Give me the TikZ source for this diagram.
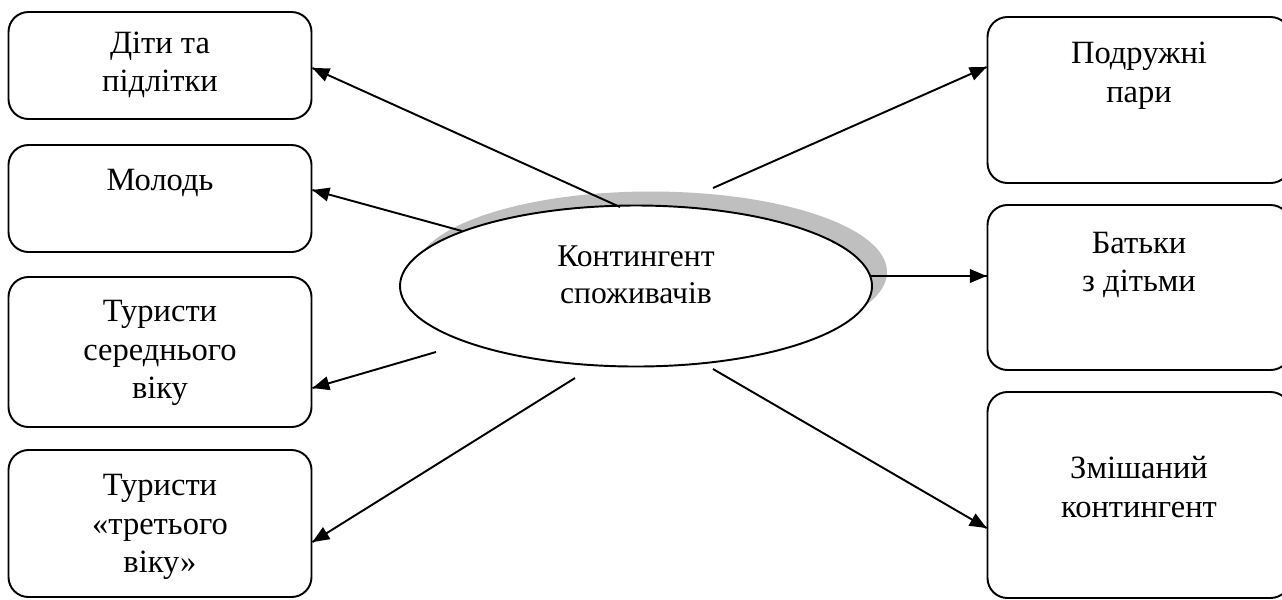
\documentclass[tikz,border=0pt]{standalone}
\usepackage{fontspec}
\setmainfont{Liberation Serif}
\usepackage{tikz}
\usetikzlibrary{arrows}
\usetikzlibrary{calc}
\usetikzlibrary{decorations.markings}
\usetikzlibrary{shapes.geometric}
\tikzset{->/.style = {decoration={markings,
                                  mark=at position 1 with {\arrow[scale=1.05]{triangle 45}}},
                      postaction={decorate}}}
\tikzset{box/.style = {draw, line width=1.1pt, rounded corners=4mm,
                       minimum width=60.6mm, inner sep=0pt}}
\tikzset{kont/.style = {ellipse, draw, line width=1.1pt, fill=white,
                        minimum width=94.4mm, minimum height=32.2mm, inner sep=0pt}}
\tikzset{kontshadow/.style = {kont, draw=none, fill=black!25}}
\tikzset{txt/.style = {align=center, font=\fontsize{18.5}{22}\selectfont}}

\begin{document}
\begin{tikzpicture}[x=0.2mm, y=-0.2mm]
    \useasboundingbox (0,0) rectangle (1282,599);

    % left column
    \node [box, minimum height=21.4mm] (dity)     at (160,65.5)  {};
    \node [box, minimum height=21.4mm] (molod)    at (160,198.5) {};
    \node [box, minimum height=30mm]   (tur-ser)  at (160,352)   {};
    \node [box, minimum height=29.4mm] (tur-tret) at (160,523.5) {};
    \node [txt] (dity-t)     at (160,65)  {Діти та\\підлітки};
    \node [txt] (molod-t)    at (160,183) {Молодь};
    \node [txt] (tur-ser-t)  at (160,353) {Туристи\\середнього\\віку};
    \node [txt] (tur-tret-t) at (160,527) {Туристи\\«третього\\віку»};

    % right column
    \node [box, minimum height=33.2mm] (pary)  at (1139,100)   {};
    \node [box, minimum height=33mm]   (batky) at (1139,287.5) {};
    \node [box, minimum height=41.2mm] (zmish) at (1139,495)   {};
    \node [txt] (pary-t)  at (1139,76)  {Подружні\\пари};
    \node [txt] (batky-t) at (1139,265) {Батьки\\з дітьми};
    \node [txt] (zmish-t) at (1139,487) {Змішаний\\контингент};

    % centre
    \node [kontshadow] (kont-shadow) at (651,272) {};
    \node [kont] (kont) at (636,286) {};
    \node [txt, font=\fontsize{18}{21}\selectfont] (kont-t) at (636,275) {Контингент\\споживачів};

    \draw [line width=1.1pt, ->] ($(kont.center)+(-16,-79)$) -- ($(dity.east)+(0,2.5)$);
    \draw [line width=1.1pt, ->] ($(kont.center)+(-174,-55)$) -- ($(molod.east)+(0,-8.5)$);
    \draw [line width=1.1pt, ->] ($(kont.center)+(-200,66)$) -- ($(tur-ser.east)+(0,36)$);
    \draw [line width=1.1pt, ->] ($(kont.center)+(-61,92)$) -- ($(tur-tret.east)+(0,18.5)$);

    \draw [line width=1.1pt, ->] ($(kont.center)+(77,-98)$) -- ($(pary.west)+(0,-33)$);
    \draw [line width=1.1pt, ->] ($(kont.center)+(235,-10)$) -- ($(batky.west)+(0,-11.5)$);
    \draw [line width=1.1pt, ->] ($(kont.center)+(77,83)$) -- ($(zmish.west)+(0,33)$);
  \end{tikzpicture}
\end{document}
